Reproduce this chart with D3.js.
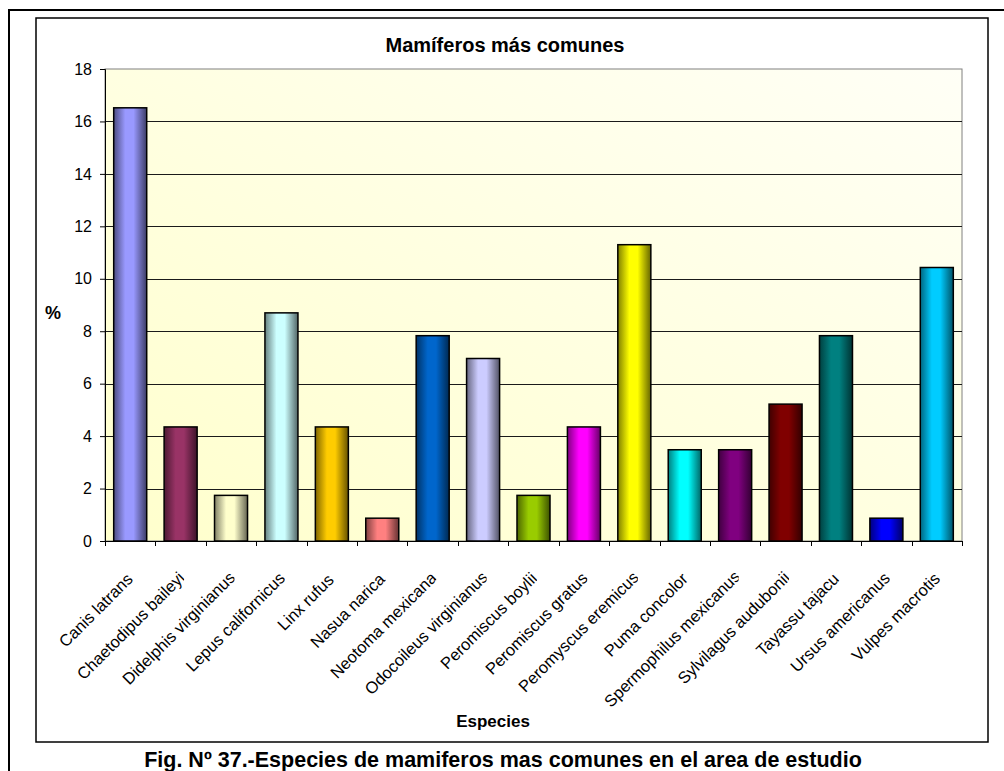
<!DOCTYPE html>
<html>
<head>
<meta charset="utf-8">
<title>Mamíferos más comunes</title>
<script src="https://cdn.jsdelivr.net/npm/d3@7"></script>
<style>
  body { margin: 0; background: #fff; }
  text { font-family: "Liberation Sans", Arial, sans-serif; }
</style>
</head>
<body>
<svg id="chart" width="1004" height="771"></svg>
<script>
// species names (x categories)
var species = ["Canis latrans", "Chaetodipus baileyi", "Didelphis virginianus",
  "Lepus californicus", "Linx rufus", "Nasua narica", "Neotoma mexicana",
  "Odocoileus virginianus", "Peromiscus boylii", "Peromiscus gratus",
  "Peromyscus eremicus", "Puma concolor", "Spermophilus mexicanus",
  "Sylvilagus audubonii", "Tayassu tajacu", "Ursus americanus", "Vulpes macrotis"];

// % of records
var percent = [16.52, 4.35, 1.74, 8.70, 4.35, 0.87, 7.83, 6.96, 1.74, 4.35,
  11.30, 3.48, 3.48, 5.22, 7.83, 0.87, 10.43];

var barColors = ["#9999FF", "#993366", "#FFFFCC", "#CCFFFF", "#FFCC00", "#FF8080",
  "#0066CC", "#CCCCFF", "#99CC00", "#FF00FF", "#FFFF00", "#00FFFF", "#800080",
  "#800000", "#008080", "#0000FF", "#00CCFF"];

var yTicks = [0, 2, 4, 6, 8, 10, 12, 14, 16, 18];

function draw() {
  var svg = d3.select("#chart");
  var defs = svg.append("defs");

  // frames
  svg.append("rect")
    .attr("x", 9).attr("y", 10)
    .attr("width", 1010).attr("height", 800)
    .attr("fill", "none").attr("stroke", "#000").attr("stroke-width", 2);

  svg.append("rect")
    .attr("x", 36).attr("y", 18)
    .attr("width", 952).attr("height", 724)
    .attr("fill", "#fff").attr("stroke", "#000").attr("stroke-width", 1.5);

  var pl = 105, pr = 962, pt = 69, pb = 541;

  var x = d3.scaleBand()
    .domain(species)
    .range([pl, pr])
    .paddingInner(0.345)
    .paddingOuter(0.1725);

  var y = d3.scaleLinear()
    .domain([0, 18])
    .range([pb, pt]);

  // plot background
  var bg = defs.append("linearGradient")
    .attr("id", "plotbg")
    .attr("x1", 0).attr("y1", 1).attr("x2", 1).attr("y2", 0);
  bg.append("stop").attr("offset", "0%").attr("stop-color", "#FFFFCC");
  bg.append("stop").attr("offset", "100%").attr("stop-color", "#FFFFF6");

  svg.append("rect")
    .attr("x", pl).attr("y", pt)
    .attr("width", pr - pl).attr("height", pb - pt)
    .attr("fill", "url(#plotbg)")
    .attr("stroke", "#808080").attr("stroke-width", 1);

  // gridlines
  svg.append("g")
    .selectAll("line")
    .data(yTicks.filter(function(d) { return d > 0 && d < 18; }))
    .enter()
    .append("line")
    .attr("x1", pl).attr("x2", pr)
    .attr("y1", function(d) { return Math.round(y(d)) + 0.5; })
    .attr("y2", function(d) { return Math.round(y(d)) + 0.5; })
    .attr("stroke", "#1a1a1a").attr("stroke-width", 1);

  // bar gradients, dark edges / bright middle
  barColors.forEach(function(c, i) {
    var g = defs.append("linearGradient")
      .attr("id", "bar" + i)
      .attr("x1", 0).attr("y1", 0).attr("x2", 1).attr("y2", 0);
    g.append("stop").attr("offset", "0%").attr("stop-color", d3.interpolateRgb(c, "#000")(0.5));
    g.append("stop").attr("offset", "35%").attr("stop-color", c);
    g.append("stop").attr("offset", "60%").attr("stop-color", c);
    g.append("stop").attr("offset", "100%").attr("stop-color", d3.interpolateRgb(c, "#000")(0.6));
  });

  svg.append("g")
    .selectAll("rect")
    .data(percent)
    .enter()
    .append("rect")
    .attr("x", function(d, i) { return x(species[i]); })
    .attr("y", function(d) { return y(d); })
    .attr("width", x.bandwidth())
    .attr("height", function(d) { return y(0) - y(d); })
    .attr("fill", function(d, i) { return "url(#bar" + i + ")"; })
    .attr("stroke", "#000").attr("stroke-width", 1.5);

  // y axis
  var yAxis = svg.append("g")
    .attr("transform", "translate(" + pl + ",0)")
    .call(d3.axisLeft(y).tickValues(yTicks).tickSize(5).tickPadding(8));
  yAxis.select(".domain").attr("stroke", "#000");
  yAxis.selectAll("text")
    .attr("font-size", 16).attr("fill", "#000")
    .style("font-family", "'Liberation Sans', Arial, sans-serif");

  // x axis: ticks on band boundaries
  var bounds = species.map(function(s) { return x(s) - x.step() * x.paddingInner() / 2; });
  bounds.push(pr);
  svg.append("line")
    .attr("x1", pl).attr("x2", pr)
    .attr("y1", pb + 0.5).attr("y2", pb + 0.5)
    .attr("stroke", "#000");
  svg.append("g")
    .selectAll("line")
    .data(bounds)
    .enter()
    .append("line")
    .attr("x1", function(d) { return Math.round(d) + 0.5; })
    .attr("x2", function(d) { return Math.round(d) + 0.5; })
    .attr("y1", pb).attr("y2", pb + 5)
    .attr("stroke", "#000");

  // rotated labels, clipped on the right like the original
  var labels = svg.append("g");
  species.forEach(function(s, i) {
    var cx = x(s) + x.bandwidth() / 2;
    defs.append("clipPath").attr("id", "lab" + i)
      .append("rect")
      .attr("x", cx - 300).attr("y", pb + 5)
      .attr("width", 303.5).attr("height", 220);
    var g = labels.append("g").attr("clip-path", "url(#lab" + i + ")")
      .append("g")
      .attr("transform", "translate(" + (cx + 1) + "," + (pb + 42) + ") rotate(-45)");
    var t = g.append("text")
      .attr("text-anchor", "end")
      .attr("font-size", 16.5)
      .attr("fill", "#000")
      .text(s);
    var len = t.node().getComputedTextLength();
    t.attr("x", len * 0.04);
  });

  // titles
  svg.append("text")
    .attr("x", 505).attr("y", 52)
    .attr("text-anchor", "middle")
    .attr("font-size", 20).attr("font-weight", "bold")
    .text("Mamíferos más comunes");

  svg.append("text")
    .attr("x", 53).attr("y", 319)
    .attr("text-anchor", "middle")
    .attr("font-size", 18).attr("font-weight", "bold")
    .text("%");

  svg.append("text")
    .attr("x", 493).attr("y", 727)
    .attr("text-anchor", "middle")
    .attr("font-size", 17).attr("font-weight", "bold")
    .text("Especies");

  svg.append("text")
    .attr("x", 503).attr("y", 767)
    .attr("text-anchor", "middle")
    .attr("font-size", 21.5).attr("font-weight", "bold")
    .text("Fig. Nº 37.-Especies de mamiferos mas comunes en el area de estudio");
}

draw();
</script>
</body>
</html>
